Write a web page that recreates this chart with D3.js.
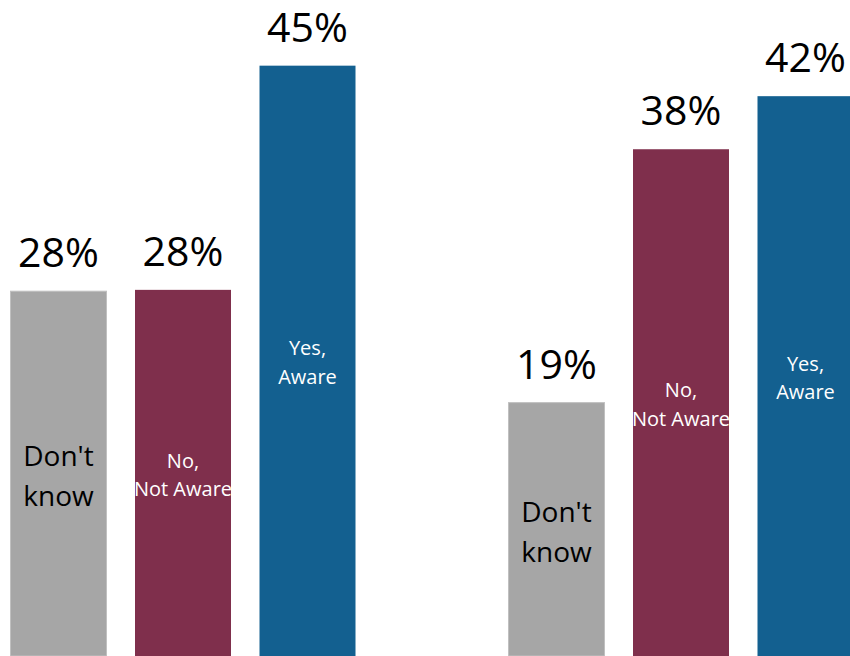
<!DOCTYPE html>
<html>
<head>
<meta charset="utf-8">
<script src="https://cdn.jsdelivr.net/npm/d3@7"></script>
<style>
  body { margin: 0; background: #fff; }
  svg { display: block; font-family: "Open Sans", sans-serif; }
</style>
</head>
<body>
<div id="chart"></div>
<script>
// Data
var groups = ["A", "B"],
	categories = ["dk", "no", "yes"],
	catLabels = [["Don't", "know"], ["No,", "Not Aware"], ["Yes,", "Aware"]],
	// values (shown rounded)
	valuesA = [27.5, 27.6, 44.5],
	valuesB = [19.1, 38.2, 42.2];

var width = 850,
	height = 656,
	colors = ["#a6a6a6", "#7f2f4c", "#136090"],
	textColors = ["#000", "#fff", "#fff"],
	textSizes = [28, 20, 20];

var rows = [];
groups.forEach(function(g, gi) {
	var vals = gi === 0 ? valuesA : valuesB;
	categories.forEach(function(c, ci) {
		rows.push({ group: g, cat: c, ci: ci, value: vals[ci], id: g + c });
	});
});

var x0 = d3.scaleBand()
	.domain(groups)
	.range([10.5, 10.5 + 2 * 498]);

var x1 = d3.scaleBand()
	.domain(categories)
	.range([0, 345])
	.paddingInner(28.5 / 124.5);

var y = d3.scaleLinear()
	.domain([0, 49.45])
	.range([height, 0]);

var svg = d3.select("#chart").append("svg")
	.attr("width", width)
	.attr("height", height);

// clip inner labels to their bars
svg.append("defs").selectAll("clipPath")
	.data(rows)
  .enter().append("clipPath")
	.attr("id", function(d) { return "clip-" + d.id; })
  .append("rect")
	.attr("x", function(d) { return x0(d.group) + x1(d.cat); })
	.attr("y", function(d) { return y(d.value); })
	.attr("width", x1.bandwidth())
	.attr("height", function(d) { return height - y(d.value); });

var bar = svg.selectAll("g.bar")
	.data(rows)
  .enter().append("g")
	.attr("class", "bar");

bar.append("rect")
	.attr("x", function(d) { return x0(d.group) + x1(d.cat); })
	.attr("y", function(d) { return y(d.value); })
	.attr("width", x1.bandwidth())
	.attr("height", function(d) { return height - y(d.value); })
	.attr("fill", function(d) { return colors[d.ci]; })
	.attr("stroke", function(d) { return d.ci === 0 ? "#c0c0c0" : "none"; })
	.attr("stroke-width", 1);

// value labels
bar.append("text")
	.attr("x", function(d) { return x0(d.group) + x1(d.cat) + x1.bandwidth() / 2; })
	.attr("y", function(d) { return y(d.value) - 24; })
	.attr("text-anchor", "middle")
	.attr("font-size", 41)
	.attr("fill", "#000")
	.text(function(d) { return Math.round(d.value) + "%"; });

// category labels inside bars
var inner = bar.append("text")
	.attr("clip-path", function(d) { return "url(#clip-" + d.id + ")"; })
	.attr("text-anchor", "middle")
	.attr("font-size", function(d) { return textSizes[d.ci]; })
	.attr("fill", function(d) { return textColors[d.ci]; });

inner.selectAll("tspan")
	.data(function(d) {
		var cx = x0(d.group) + x1(d.cat) + x1.bandwidth() / 2,
			mid = (y(d.value) + height) / 2,
			fs = textSizes[d.ci];
		return catLabels[d.ci].map(function(t, i) {
			return { text: t, x: cx, y: mid - 0.27 * fs + i * 1.42 * fs };
		});
	})
  .enter().append("tspan")
	.attr("x", function(d) { return d.x; })
	.attr("y", function(d) { return d.y; })
	.text(function(d) { return d.text; });
</script>
</body>
</html>
